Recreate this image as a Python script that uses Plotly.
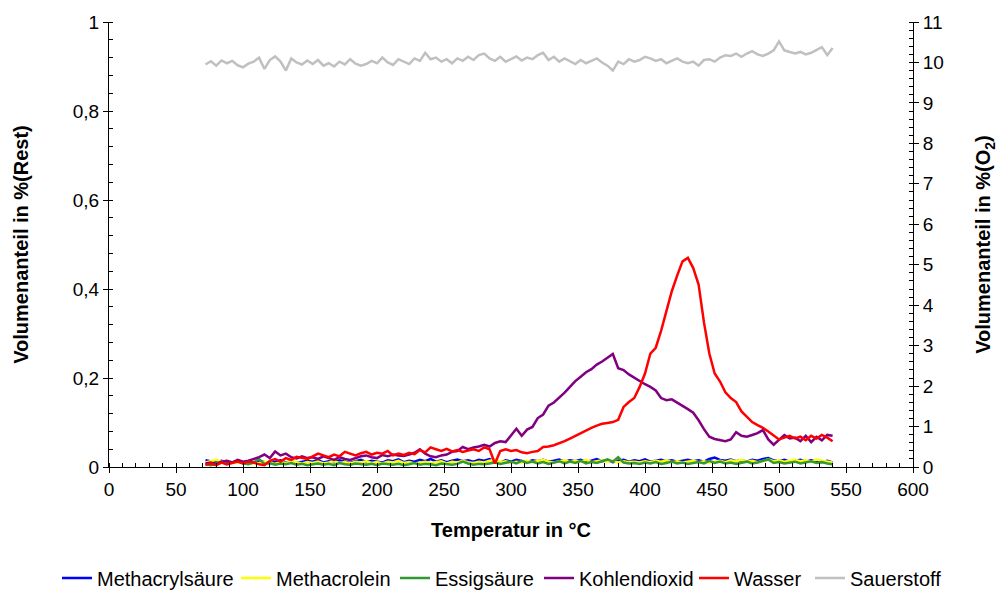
import plotly.graph_objects as go

temperatur = [
    72, 76, 80, 84, 88, 92, 96, 100, 104, 108,
    112, 116, 120, 124, 128, 132, 136, 140, 144, 148,
    152, 156, 160, 164, 168, 172, 176, 180, 184, 188,
    192, 196, 200, 204, 208, 212, 216, 220, 224, 228,
    232, 236, 240, 244, 248, 252, 256, 260, 264, 268,
    272, 276, 280, 284, 288, 292, 296, 300, 304, 308,
    312, 316, 320, 324, 328, 332, 336, 340, 344, 348,
    352, 356, 360, 364, 368, 372, 376, 380, 384, 388,
    392, 396, 400, 404, 408, 412, 416, 420, 424, 428,
    432, 436, 440, 444, 448, 452, 456, 460, 464, 468,
    472, 476, 480, 484, 488, 492, 496, 500, 504, 508,
    512, 516, 520, 524, 528, 532, 536, 540,
]

methacrylsaeure = [
    0.015, 0.012, 0.010, 0.014, 0.008, 0.011, 0.013, 0.009, 0.012, 0.010,
    0.014, 0.011, 0.008, 0.012, 0.015, 0.010, 0.013, 0.009, 0.011, 0.014,
    0.012, 0.016, 0.010, 0.013, 0.011, 0.015, 0.012, 0.009, 0.013, 0.016,
    0.011, 0.014, 0.012, 0.010, 0.015, 0.013, 0.017, 0.011, 0.014, 0.012,
    0.016, 0.013, 0.018, 0.012, 0.015, 0.011, 0.014, 0.017, 0.013, 0.015,
    0.012, 0.016, 0.014, 0.018, 0.013, 0.010, 0.015, 0.012, 0.016, 0.014,
    0.011, 0.015, 0.013, 0.016, 0.012, 0.014, 0.017, 0.012, 0.015, 0.013,
    0.016, 0.012, 0.014, 0.018, 0.013, 0.015, 0.011, 0.014, 0.016, 0.012,
    0.015, 0.013, 0.017, 0.012, 0.014, 0.016, 0.013, 0.015, 0.012, 0.014,
    0.016, 0.013, 0.015, 0.012, 0.018, 0.021, 0.016, 0.014, 0.017, 0.013,
    0.015, 0.012, 0.016, 0.014, 0.018, 0.020, 0.015, 0.013, 0.016, 0.012,
    0.014, 0.016, 0.012, 0.015, 0.013, 0.011, 0.014, 0.010,
]

methacrolein = [
    0.010, 0.013, 0.016, 0.012, 0.014, 0.011, 0.009, 0.012, 0.010, 0.008,
    0.009, 0.012, 0.010, 0.007, 0.011, 0.009, 0.013, 0.010, 0.008, 0.011,
    0.009, 0.012, 0.008, 0.010, 0.013, 0.009, 0.011, 0.008, 0.012, 0.010,
    0.013, 0.009, 0.011, 0.008, 0.012, 0.010, 0.014, 0.009, 0.011, 0.008,
    0.010, 0.012, 0.009, 0.011, 0.013, 0.008, 0.012, 0.010, 0.014, 0.011,
    0.009, 0.012, 0.010, 0.014, 0.016, 0.011, 0.013, 0.009, 0.012, 0.010,
    0.014, 0.011, 0.013, 0.016, 0.012, 0.010, 0.013, 0.015, 0.011, 0.014,
    0.012, 0.016, 0.011, 0.013, 0.015, 0.012, 0.014, 0.010, 0.013, 0.011,
    0.012, 0.010, 0.013, 0.011, 0.014, 0.012, 0.015, 0.011, 0.013, 0.010,
    0.012, 0.014, 0.011, 0.013, 0.010, 0.012, 0.014, 0.011, 0.015, 0.013,
    0.016, 0.012, 0.014, 0.011, 0.013, 0.017, 0.013, 0.015, 0.012, 0.014,
    0.016, 0.013, 0.015, 0.012, 0.017, 0.014, 0.012, 0.010,
]

essigsaeure = [
    0.006, 0.004, 0.008, 0.012, 0.007, 0.010, 0.014, 0.008, 0.006, 0.010,
    0.018, 0.007, 0.009, 0.005, 0.008, 0.006, 0.009, 0.005, 0.007, 0.004,
    0.006, 0.008, 0.005, 0.007, 0.004, 0.009, 0.006, 0.005, 0.008, 0.006,
    0.005, 0.007, 0.004, 0.008, 0.006, 0.005, 0.007, 0.004, 0.006, 0.009,
    0.005, 0.007, 0.006, 0.004, 0.008, 0.006, 0.005, 0.007, 0.012, 0.008,
    0.005, 0.007, 0.006, 0.008, 0.010, 0.007, 0.009, 0.012, 0.008, 0.014,
    0.009, 0.012, 0.008, 0.011, 0.007, 0.010, 0.013, 0.008, 0.012, 0.009,
    0.014, 0.008, 0.011, 0.009, 0.013, 0.017, 0.012, 0.022, 0.010, 0.008,
    0.009, 0.007, 0.010, 0.008, 0.011, 0.007, 0.009, 0.012, 0.008, 0.010,
    0.007, 0.009, 0.011, 0.008, 0.014, 0.009, 0.012, 0.008, 0.010, 0.007,
    0.009, 0.012, 0.008, 0.010, 0.014, 0.017, 0.009, 0.011, 0.008, 0.010,
    0.012, 0.008, 0.010, 0.013, 0.009, 0.011, 0.008, 0.006,
]

kohlendioxid = [
    0.008, 0.010, 0.006, 0.012, 0.014, 0.010, 0.016, 0.012, 0.014, 0.018,
    0.022, 0.028, 0.020, 0.035, 0.026, 0.030, 0.022, 0.019, 0.024, 0.020,
    0.022, 0.018, 0.024, 0.020, 0.016, 0.022, 0.018, 0.016, 0.020, 0.024,
    0.026, 0.022, 0.020, 0.027, 0.024, 0.028, 0.026, 0.025, 0.028, 0.032,
    0.040, 0.030, 0.024, 0.022, 0.026, 0.028, 0.034, 0.036, 0.045, 0.040,
    0.044, 0.046, 0.050, 0.046, 0.054, 0.058, 0.056, 0.072, 0.086, 0.070,
    0.084, 0.090, 0.110, 0.118, 0.138, 0.145, 0.155, 0.167, 0.180, 0.193,
    0.203, 0.213, 0.220, 0.230, 0.237, 0.246, 0.254, 0.222, 0.218, 0.208,
    0.200, 0.192, 0.186, 0.180, 0.172, 0.155, 0.150, 0.152, 0.145, 0.138,
    0.130, 0.122, 0.105, 0.085, 0.068, 0.063, 0.060, 0.058, 0.062, 0.078,
    0.070, 0.068, 0.072, 0.076, 0.083, 0.062, 0.050, 0.060, 0.072, 0.064,
    0.066, 0.058, 0.070, 0.056, 0.068, 0.060, 0.072, 0.070,
]

wasser = [
    0.005, 0.008, 0.004, 0.010, 0.006, 0.009, 0.012, 0.008, 0.012, 0.010,
    0.006, 0.004, 0.014, 0.018, 0.012, 0.020, 0.016, 0.023, 0.020, 0.018,
    0.024, 0.030, 0.026, 0.022, 0.028, 0.024, 0.034, 0.030, 0.026, 0.031,
    0.034, 0.028, 0.032, 0.030, 0.036, 0.026, 0.030, 0.027, 0.032, 0.029,
    0.038, 0.033, 0.044, 0.040, 0.036, 0.041, 0.035, 0.038, 0.034, 0.037,
    0.040, 0.036, 0.044, 0.040, 0.008, 0.036, 0.040, 0.036, 0.038, 0.033,
    0.031, 0.034, 0.036, 0.045, 0.046, 0.049, 0.053, 0.058, 0.064, 0.070,
    0.077, 0.083, 0.088, 0.093, 0.097, 0.099, 0.101, 0.106, 0.135, 0.146,
    0.155, 0.180, 0.210, 0.255, 0.268, 0.306, 0.350, 0.395, 0.430, 0.462,
    0.470, 0.447, 0.410, 0.325, 0.255, 0.210, 0.192, 0.168, 0.155, 0.146,
    0.125, 0.112, 0.101, 0.094, 0.088, 0.080, 0.072, 0.062, 0.066, 0.070,
    0.064, 0.068, 0.060, 0.070, 0.064, 0.072, 0.066, 0.058,
]

sauerstoff = [
    9.95, 10.03, 9.92, 10.05, 9.98, 10.04, 9.93, 9.88, 9.97, 10.02,
    10.12, 9.84, 10.06, 10.15, 10.02, 9.80, 10.10, 10.00, 9.95, 10.05,
    9.96, 10.06, 9.92, 9.98, 9.90, 10.02, 9.95, 10.08, 9.97, 9.92,
    9.96, 10.04, 9.98, 10.12, 10.00, 9.94, 10.08, 10.02, 9.96, 10.10,
    10.04, 10.24, 10.08, 10.12, 10.02, 10.08, 9.98, 10.10, 10.04, 10.14,
    10.06, 10.18, 10.22, 10.10, 10.04, 10.14, 10.02, 10.08, 10.15, 10.05,
    10.12, 10.08, 10.18, 10.24, 10.06, 10.14, 10.02, 10.10, 10.04, 9.96,
    10.06, 9.98, 10.04, 10.10, 10.00, 9.92, 9.80, 10.02, 9.96, 10.08,
    10.02, 10.06, 10.14, 10.10, 10.04, 10.08, 9.98, 10.04, 10.10, 10.02,
    9.98, 10.02, 9.92, 10.06, 10.08, 10.02, 10.12, 10.18, 10.16, 10.22,
    10.14, 10.22, 10.28, 10.20, 10.16, 10.22, 10.30, 10.52, 10.30, 10.26,
    10.22, 10.26, 10.20, 10.24, 10.30, 10.38, 10.18, 10.36,
]

series = [
    ("Methacrylsäure", methacrylsaeure, "#0000FF", "y"),
    ("Methacrolein", methacrolein, "#FFFF00", "y"),
    ("Essigsäure", essigsaeure, "#339933", "y"),
    ("Kohlendioxid", kohlendioxid, "#800080", "y"),
    ("Wasser", wasser, "#FF0000", "y"),
    ("Sauerstoff", sauerstoff, "#C0C0C0", "y2"),
]
# left edge (px) of each legend entry in the 1003 px wide page
legend_left_px = [57, 236, 395, 539, 694, 810]

FONT = "Liberation Sans, Arial, sans-serif"
W, H = 1003, 594

fig = go.Figure()
legend_layouts = {}
for i, (name, vals, col, ax) in enumerate(series):
    lg = "legend" if i == 0 else f"legend{i + 1}"
    fig.add_trace(go.Scatter(x=temperatur, y=vals, name=name, mode="lines",
                             line=dict(color=col, width=2.5), yaxis=ax, legend=lg))
    legend_layouts[lg] = dict(
        orientation="h", xref="container", yref="container",
        x=legend_left_px[i] / W, xanchor="left",
        y=1 - 578 / H, yanchor="middle",
        font=dict(family=FONT, size=20, color="black"),
        bgcolor="rgba(0,0,0,0)", itemwidth=30,
    )

axis_common = dict(
    showgrid=False, zeroline=False, showline=True, linecolor="black", linewidth=1,
    ticks="outside", ticklen=5, tickcolor="black", tickwidth=1,
    tickfont=dict(family=FONT, size=19, color="black"),
)

fig.update_layout(
    width=W, height=H, autosize=False,
    margin=dict(l=109, r=89, t=19, b=127),
    paper_bgcolor="white", plot_bgcolor="white",
    separators=",.",
    font=dict(family=FONT, size=19, color="black"),
    xaxis=dict(
        range=[0, 600], dtick=50, tick0=0,
        title=dict(text="<b>Temperatur in °C</b>", font=dict(family=FONT, size=20), standoff=24),
        minor=dict(dtick=10, ticks="inside", ticklen=4, tickcolor="black"),
        **axis_common,
    ),
    yaxis=dict(
        range=[0, 1], dtick=0.2, tick0=0,
        title=dict(text="<b>Volumenanteil in %(Rest)</b>", font=dict(family=FONT, size=20), standoff=38),
        minor=dict(dtick=0.04, ticks="inside", ticklen=4, tickcolor="black"),
        **axis_common,
    ),
    yaxis2=dict(
        range=[0, 11], dtick=1, tick0=0, overlaying="y", side="right",
        title=dict(text="<b>Volumenanteil in %(O<sub>2</sub>)</b>", font=dict(family=FONT, size=20), standoff=33),
        minor=dict(dtick=0.2, ticks="inside", ticklen=4, tickcolor="black"),
        **axis_common,
    ),
    showlegend=True,
    **legend_layouts,
)

fig.write_html("out.html")
